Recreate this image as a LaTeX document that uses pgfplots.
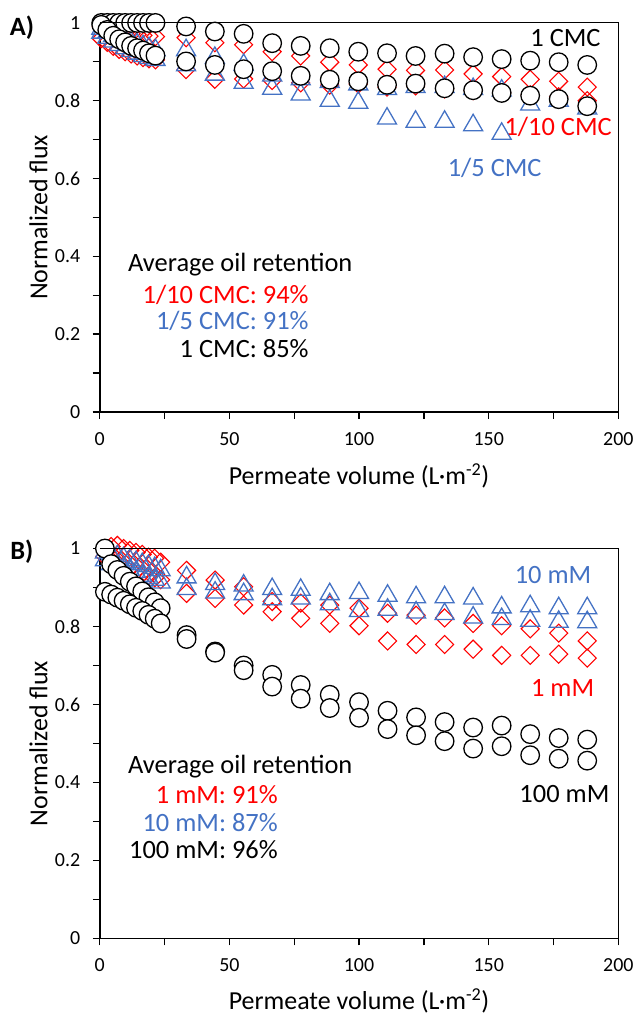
\documentclass[border=0pt]{standalone}
\usepackage{fontspec}
\setmainfont{Carlito}
\usepackage{pgfplots}
\pgfplotsset{compat=1.18}
\definecolor{cblue}{HTML}{4472C4}
\definecolor{cred}{HTML}{FF0000}
\newcommand{\annfont}{\fontsize{26.5}{30}\selectfont}
\pgfplotsset{
 myaxis/.style={
  scale only axis, width=520pt, xmin=0, xmax=200, ymin=0, ymax=1,
  axis lines*=left, axis line style={line width=1.6pt,-},
  xtick={0,50,100,150,200}, xticklabels={0,50,100,150,200},
  minor xtick={25,75,125,175},
  ytick={0,0.2,0.4,0.6,0.8,1}, yticklabels={0,0.2,0.4,0.6,0.8,1},
  minor ytick={0.1,0.3,0.5,0.7,0.9},
  tick align=outside, major tick length=7pt, minor tick length=7pt,
  tick style={line width=1.3pt, black},
  tick label style={font=\fontsize{20}{24}\selectfont},
  yticklabel style={xshift=-9pt},
  xticklabel style={yshift=-10pt},
  label style={font=\fontsize{26}{30}\selectfont},
  clip=false,
  xlabel={Permeate volume (L·m\textsuperscript{-2})},
  ylabel={Normalized flux},
  ylabel style={at={(axis description cs:-0.118,0.5)}, anchor=center},
  xlabel style={at={(axis description cs:0.5,-0.164)}, anchor=center},
  after end axis/.append code={\draw[line width=1.1pt] (rel axis cs:0,1) -- (rel axis cs:1,1) -- (rel axis cs:1,0);},
 },
 circ/.style={only marks, mark=*, mark size=9.3pt, mark options={draw=black, fill=white, line width=1.3pt}},
 tri/.style={only marks, mark=triangle, mark size=11pt, mark options={draw=cblue, line width=1.3pt}},
 dia/.style={only marks, mark=square, mark size=6.4pt, mark options={draw=cred, rotate=45, line width=1.1pt}},
}
\begin{document}
\begin{tikzpicture}
\path (0pt,0pt) rectangle (638pt,1016pt);
% ---------- Panel A ----------
\begin{axis}[myaxis, height=390pt, at={(100pt,603pt)}, anchor=south west]
\addplot[dia] coordinates {(0.6,0.99)(2.9,0.985)(5.2,0.98)(7.5,0.977)(9.8,0.975)(12.1,0.972)(14.4,0.97)(16.7,0.968)(19,0.966)(21.5,0.965)(33.3,0.962)(44.4,0.949)(55.5,0.944)(66.5,0.926)(77.5,0.915)(88.7,0.899)(99.7,0.892)(110.8,0.881)(121.8,0.878)(133,0.879)(144,0.869)(155,0.862)(166,0.855)(177,0.85)(188,0.835)};
\addplot[dia] coordinates {(0.6,0.96)(2.9,0.95)(5.2,0.94)(7.5,0.932)(9.8,0.926)(12.1,0.92)(14.4,0.915)(16.7,0.911)(19,0.908)(21.5,0.905)(33.3,0.88)(44.4,0.855)(55.5,0.856)(66.5,0.852)(77.5,0.846)(88.7,0.84)(99.7,0.843)(110.8,0.835)(121.8,0.838)(133,0.83)(144,0.826)(155,0.82)(166,0.815)(177,0.81)(188,0.80)};
\addplot[tri] coordinates {(0.6,0.985)(2.9,0.975)(5.2,0.967)(7.5,0.96)(9.8,0.955)(12.1,0.95)(14.4,0.945)(16.7,0.94)(19,0.935)(21.5,0.93)(33.3,0.93)(44.4,0.91)(55.5,0.892)(66.5,0.865)(77.5,0.855)(88.7,0.848)(99.7,0.842)(110.8,0.83)(121.8,0.835)(133,0.835)(144,0.83)(155,0.826)(166,0.79)(177,0.80)(188,0.78)};
\addplot[tri] coordinates {(0.6,0.975)(2.9,0.962)(5.2,0.952)(7.5,0.943)(9.8,0.935)(12.1,0.928)(14.4,0.921)(16.7,0.915)(19,0.91)(21.5,0.905)(33.3,0.891)(44.4,0.867)(55.5,0.846)(66.5,0.831)(77.5,0.816)(88.7,0.80)(99.7,0.795)(110.8,0.754)(121.8,0.746)(133,0.746)(144,0.737)(155,0.715)};
\addplot[circ] coordinates {(0.6,1)(2.9,1)(5.2,1)(7.5,1)(9.8,1)(12.1,1)(14.4,1)(16.7,1)(19,1)(21.5,1)(33.3,0.991)(44.4,0.978)(55.5,0.972)(66.5,0.948)(77.5,0.941)(88.7,0.935)(99.7,0.926)(110.8,0.922)(121.8,0.915)(133,0.921)(144,0.912)(155,0.907)(166,0.903)(177,0.899)(188,0.892)};
\addplot[circ] coordinates {(0.6,0.995)(2.9,0.982)(5.2,0.967)(7.5,0.958)(9.8,0.95)(12.1,0.941)(14.4,0.935)(16.7,0.929)(19,0.922)(21.5,0.916)(33.3,0.901)(44.4,0.892)(55.5,0.881)(66.5,0.876)(77.5,0.864)(88.7,0.854)(99.7,0.85)(110.8,0.841)(121.8,0.844)(133,0.832)(144,0.827)(155,0.82)(166,0.813)(177,0.804)(188,0.786)};
\node[anchor=east, font=\annfont] at (axis cs:194.5,0.962) {1 CMC};
\node[anchor=east, font=\annfont, text=cred] at (axis cs:198.8,0.733) {1/10 CMC};
\node[anchor=center, font=\annfont, text=cblue] at (axis cs:152.3,0.628) {1/5 CMC};
\node[anchor=west, font=\annfont] at (axis cs:9.6,0.379) {Average oil retention};
\node[anchor=east, font=\annfont, text=cred] at (axis cs:81.9,0.30) {1/10 CMC: 94\%};
\node[anchor=east, font=\annfont, text=cblue] at (axis cs:81.9,0.233) {1/5 CMC: 91\%};
\node[anchor=east, font=\annfont] at (axis cs:81.9,0.162) {1 CMC: 85\%};
\node[anchor=center, font=\annfont\bfseries] at (axis cs:-30,0.987) {A)};
\end{axis}
% ---------- Panel B ----------
\begin{axis}[myaxis, height=391pt, at={(100pt,75pt)}, anchor=south west, xlabel style={at={(axis description cs:0.5,-0.159)}}]
\addplot[dia] coordinates {(2,1.0)(4.4,1.005)(6.8,1.008)(9.2,1.0)(11.6,0.995)(14,0.99)(16.4,0.985)(18.8,0.978)(21.2,0.975)(23.5,0.965)(33.5,0.944)(44.5,0.919)(55.5,0.902)(66.5,0.864)(77.5,0.86)(88.7,0.855)(100,0.847)(111,0.834)(122,0.829)(133,0.822)(144,0.808)(155,0.802)(166,0.794)(177,0.783)(188,0.763)};
\addplot[dia] coordinates {(2,0.98)(4.4,0.97)(6.8,0.962)(9.2,0.955)(11.6,0.948)(14,0.942)(16.4,0.936)(18.8,0.93)(21.2,0.925)(23.5,0.92)(33.5,0.885)(44.5,0.872)(55.5,0.855)(66.5,0.838)(77.5,0.821)(88.7,0.808)(100,0.802)(111,0.763)(122,0.754)(133,0.754)(144,0.742)(155,0.726)(166,0.726)(177,0.729)(188,0.719)};
\addplot[tri] coordinates {(2,0.99)(4.4,0.985)(6.8,0.98)(9.2,0.975)(11.6,0.97)(14,0.965)(16.4,0.96)(18.8,0.955)(21.2,0.95)(23.5,0.944)(33.5,0.926)(44.5,0.909)(55.5,0.905)(66.5,0.896)(77.5,0.894)(88.7,0.883)(100,0.886)(111,0.879)(122,0.875)(133,0.875)(144,0.872)(155,0.849)(166,0.852)(177,0.847)(188,0.847)};
\addplot[tri] coordinates {(2,0.97)(4.4,0.96)(6.8,0.955)(9.2,0.95)(11.6,0.945)(14,0.94)(16.4,0.93)(18.8,0.925)(21.2,0.92)(23.5,0.913)(33.5,0.896)(44.5,0.887)(55.5,0.883)(66.5,0.87)(77.5,0.872)(88.7,0.857)(100,0.84)(111,0.843)(122,0.836)(133,0.832)(144,0.823)(155,0.819)(166,0.815)(177,0.812)(188,0.811)};
\addplot[circ] coordinates {(2,1.0)(4.4,0.96)(6.8,0.945)(9.2,0.93)(11.6,0.915)(14,0.903)(16.4,0.89)(18.8,0.875)(21.2,0.862)(23.5,0.847)(33.5,0.778)(44.5,0.736)(55.5,0.70)(66.5,0.676)(77.5,0.65)(88.7,0.625)(100,0.606)(111,0.584)(122,0.567)(133,0.555)(144,0.541)(155,0.546)(166,0.524)(177,0.514)(188,0.51)};
\addplot[circ] coordinates {(2,0.889)(4.4,0.882)(6.8,0.874)(9.2,0.866)(11.6,0.857)(14,0.848)(16.4,0.84)(18.8,0.83)(21.2,0.82)(23.5,0.808)(33.5,0.768)(44.5,0.733)(55.5,0.688)(66.5,0.646)(77.5,0.615)(88.7,0.591)(100,0.566)(111,0.537)(122,0.521)(133,0.506)(144,0.487)(155,0.493)(166,0.47)(177,0.461)(188,0.456)};
\node[anchor=center, font=\annfont, text=cblue] at (axis cs:174.8,0.931) {10 mM};
\node[anchor=center, font=\annfont, text=cred] at (axis cs:178.5,0.642) {1 mM};
\node[anchor=center, font=\annfont] at (axis cs:179.2,0.371) {100 mM};
\node[anchor=west, font=\annfont] at (axis cs:9.6,0.442) {Average oil retention};
\node[anchor=east, font=\annfont, text=cred] at (axis cs:70,0.368) {1 mM: 91\%};
\node[anchor=east, font=\annfont, text=cblue] at (axis cs:70,0.297) {10 mM: 87\%};
\node[anchor=east, font=\annfont] at (axis cs:70,0.228) {100 mM: 96\%};
\node[anchor=center, font=\annfont\bfseries] at (axis cs:-30,0.992) {B)};
\end{axis}
\end{tikzpicture}
\end{document}
